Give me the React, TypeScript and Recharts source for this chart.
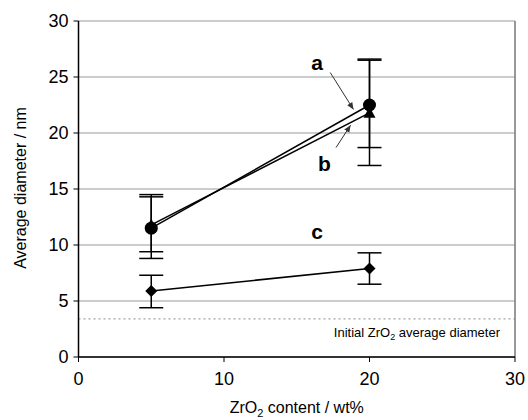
import React from "react";
import {
  ComposedChart,
  Line,
  XAxis,
  YAxis,
  CartesianGrid,
  ErrorBar,
  ReferenceLine,
  ReferenceDot,
} from "recharts";

const zrContent = [5, 20];
const seriesA = [11.5, 22.5];
const seriesB = [11.8, 21.8];
const seriesC = [5.9, 7.9];
const errorA: [number, number][] = [[2.1, 3.0], [3.8, 4.1]];
const errorB: [number, number][] = [[3.0, 2.5], [4.7, 4.7]];
const errorC: [number, number][] = [[1.5, 1.4], [1.4, 1.4]];
const xTicks = [0, 10, 20, 30];
const yTicks = [0, 5, 10, 15, 20, 25, 30];
const initialDiameter = 3.4;

const data = zrContent.map((x, i) => ({
  x,
  a: seriesA[i],
  b: seriesB[i],
  c: seriesC[i],
  errA: errorA[i],
  errB: errorB[i],
  errC: errorC[i],
}));

const FONT = "'Liberation Sans', Arial, sans-serif";

const circleDot = (p: any) => (
  <circle key={`a-${p.index}`} cx={p.cx} cy={p.cy} r={6.5} fill="#000" />
);
const triangleDot = (p: any) => (
  <path
    key={`b-${p.index}`}
    d={`M${p.cx},${p.cy - 6} L${p.cx + 6},${p.cy + 5} L${p.cx - 6},${p.cy + 5} Z`}
    fill="#000"
  />
);
const diamondDot = (p: any) => (
  <path
    key={`c-${p.index}`}
    d={`M${p.cx},${p.cy - 6} L${p.cx + 6},${p.cy} L${p.cx},${p.cy + 6} L${p.cx - 6},${p.cy} Z`}
    fill="#000"
  />
);

const letter = (t: string) => (props: any) => {
  const { viewBox } = props;
  return (
    <text
      x={viewBox.x}
      y={viewBox.y}
      textAnchor="middle"
      dominantBaseline="central"
      fontFamily={FONT}
      fontWeight="bold"
      fontSize={21}
      fill="#000"
    >
      {t}
    </text>
  );
};

export default function App() {
  return (
    <div style={{ position: "fixed", left: 0, top: 0, background: "#fff" }}>
      <svg width={0} height={0} style={{ position: "absolute" }}>
        <defs>
          <marker id="arrowHead" markerWidth="8" markerHeight="8" refX="7" refY="4" orient="auto" markerUnits="userSpaceOnUse">
            <path d="M0,1 L7,4 L0,7 Z" fill="#333" />
          </marker>
        </defs>
      </svg>
      <ComposedChart
        width={528}
        height={420}
        data={data}
        margin={{ top: 21, right: 13, bottom: 33, left: 0 }}
        style={{ fontFamily: FONT }}
      >
        <CartesianGrid vertical={false} stroke="#9a9a9a" strokeWidth={1.2} />
        <XAxis
          type="number"
          dataKey="x"
          domain={[0, 30]}
          ticks={xTicks}
          height={30}
          tickSize={5}
          tickMargin={10}
          axisLine={{ stroke: "#000", strokeWidth: 1.5 }}
          tickLine={{ stroke: "#000" }}
          tick={{ fill: "#000", fontSize: 18, fontFamily: FONT }}
          label={(props: any) => {
            const vb = props.viewBox;
            return (
              <text
                x={vb.x + vb.width / 2}
                y={413}
                textAnchor="middle"
                fontFamily={FONT}
                fontSize={16}
                fill="#000"
              >
                ZrO
                <tspan fontSize={11} dy={4}>2</tspan>
                <tspan dy={-4}> content / wt%</tspan>
              </text>
            );
          }}
        />
        <YAxis
          type="number"
          domain={[0, 30]}
          ticks={yTicks}
          width={78.5}
          tickSize={5}
          tickMargin={5}
          axisLine={{ stroke: "#000", strokeWidth: 1.5 }}
          tickLine={{ stroke: "#000" }}
          tick={{ fill: "#000", fontSize: 18, fontFamily: FONT }}
          label={() => (
            <text
              x={26}
              y={188}
              transform="rotate(-90 26 188)"
              textAnchor="middle"
              fontFamily={FONT}
              fontSize={16}
              fill="#000"
            >
              Average diameter / nm
            </text>
          )}
        />
        <ReferenceLine x={30} stroke="#777" strokeWidth={1.5} />
        <ReferenceLine
          y={initialDiameter}
          stroke="#888"
          strokeDasharray="2 3"
          strokeWidth={1}
          label={(props: any) => {
            const vb = props.viewBox;
            return (
              <text
                x={vb.x + vb.width - 15}
                y={vb.y + 18}
                textAnchor="end"
                fontFamily={FONT}
                fontSize={13}
                fill="#000"
              >
                Initial ZrO
                <tspan fontSize={9} dy={3}>2</tspan>
                <tspan dy={-3}> average diameter</tspan>
              </text>
            );
          }}
        />
        <ReferenceLine
          segment={[{ x: 17.3, y: 25.4 }, { x: 18.9, y: 22.1 }]}
          stroke="#333"
          strokeWidth={1}
          markerEnd="url(#arrowHead)"
        />
        <ReferenceLine
          segment={[{ x: 17.7, y: 18.7 }, { x: 18.7, y: 20.7 }]}
          stroke="#333"
          strokeWidth={1}
          markerEnd="url(#arrowHead)"
        />
        <Line
          dataKey="b"
          stroke="#000"
          strokeWidth={1.5}
          dot={triangleDot}
          activeDot={false}
          isAnimationActive={false}
        >
          <ErrorBar dataKey="errB" direction="y" width={12} stroke="#000" strokeWidth={1.5} />
        </Line>
        <Line
          dataKey="a"
          stroke="#000"
          strokeWidth={1.5}
          dot={circleDot}
          activeDot={false}
          isAnimationActive={false}
        >
          <ErrorBar dataKey="errA" direction="y" width={12} stroke="#000" strokeWidth={1.5} />
        </Line>
        <Line
          dataKey="c"
          stroke="#000"
          strokeWidth={1.5}
          dot={diamondDot}
          activeDot={false}
          isAnimationActive={false}
        >
          <ErrorBar dataKey="errC" direction="y" width={12} stroke="#000" strokeWidth={1.5} />
        </Line>
        <ReferenceDot x={16.4} y={26.3} r={0} stroke="none" label={letter("a")} />
        <ReferenceDot x={16.9} y={17.3} r={0} stroke="none" label={letter("b")} />
        <ReferenceDot x={16.4} y={11.2} r={0} stroke="none" label={letter("c")} />
      </ComposedChart>
    </div>
  );
}
